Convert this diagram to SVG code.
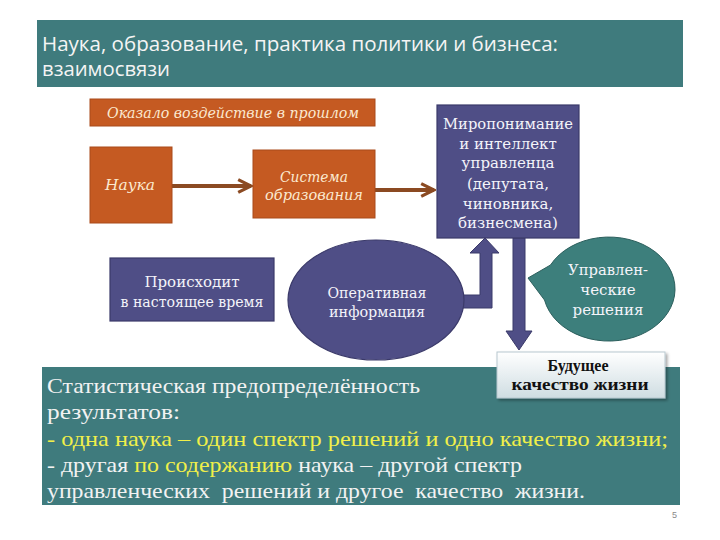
<svg xmlns="http://www.w3.org/2000/svg" width="720" height="540" viewBox="0 0 720 540">
  <defs>
    <style>
      .teal{fill:#3f7b7d;}
      .orange{fill:#c55a22;stroke:#a94a1a;stroke-width:1;}
      .purple{fill:#4f4e86;stroke:#3b3a6a;stroke-width:1.2;}
      .otext{font-style:italic;fill:#fbe9d0;text-anchor:middle;}
      .ptext{fill:#f4f4fa;text-anchor:middle;font-size:15px;}
      .btext{font-size:22px;fill:#f2f2f2;}
      .yel{fill:#f0ef4a;}
      .conn{stroke:#8b4a22;stroke-width:4;fill:none;}
    </style>
    <marker id="chev" viewBox="0 0 10 10" refX="9" refY="5" markerWidth="16" markerHeight="20" markerUnits="userSpaceOnUse" orient="auto">
      <path d="M1,1 L9,5 L1,9" fill="none" stroke="#8b4a22" stroke-width="2"/>
    </marker>
    <linearGradient id="fut" x1="0" y1="0" x2="0" y2="1">
      <stop offset="0" stop-color="#ffffff"/>
      <stop offset="1" stop-color="#cfdde2"/>
    </linearGradient>
    <filter id="sh" x="-10%" y="-10%" width="130%" height="140%">
      <feDropShadow dx="2" dy="2" stdDeviation="1.5" flood-color="#000" flood-opacity="0.35"/>
    </filter>
  </defs>
  <rect x="0" y="0" width="720" height="540" fill="#ffffff"/>

  <g id="title" font-family="Open Sans, sans-serif">
    <rect x="37" y="20" width="646" height="67" class="teal"/>
    <text x="42" y="51" font-size="20" fill="#f4f4f4" textLength="516" lengthAdjust="spacingAndGlyphs">Наука, образование, практика политики и бизнеса:</text>
    <text x="42" y="76" font-size="20" fill="#f4f4f4" textLength="128" lengthAdjust="spacingAndGlyphs">взаимосвязи</text>
  </g>

  <g id="connectors">
    <line x1="172" y1="186" x2="251" y2="186" class="conn" marker-end="url(#chev)"/>
    <line x1="375" y1="190" x2="434" y2="190" class="conn" marker-end="url(#chev)"/>
    <polygon points="455,295 480,295 480,253 470,253 485,238 499,253 492,253 492,308 455,308" fill="#4f4e86" stroke="#3b3a6a" stroke-width="1"/>
    <polygon points="513,238 525,238 525,331 532,331 519,350 506,331 513,331" fill="#4f4e86" stroke="#3b3a6a" stroke-width="1"/>
  </g>

  <g id="past" font-family="DejaVu Serif, serif">
    <rect x="90" y="99" width="285" height="27" class="orange"/>
    <text x="233" y="118" class="otext" font-size="14" textLength="252" lengthAdjust="spacingAndGlyphs">Оказало воздействие в прошлом</text>
  </g>

  <g id="nauka" font-family="DejaVu Serif, serif">
    <rect x="90" y="147" width="82" height="76" class="orange"/>
    <text x="130" y="190" class="otext" font-size="15" textLength="50" lengthAdjust="spacingAndGlyphs">Наука</text>
  </g>

  <g id="sistema" font-family="DejaVu Serif, serif">
    <rect x="253" y="150" width="122" height="68" class="orange"/>
    <text x="314" y="182" class="otext" font-size="15" textLength="68" lengthAdjust="spacingAndGlyphs">Система</text>
    <text x="314" y="200" class="otext" font-size="15" textLength="98" lengthAdjust="spacingAndGlyphs">образования</text>
  </g>

  <g id="mirovozzrenie" font-family="DejaVu Serif, serif">
    <rect x="437" y="105" width="142" height="133" class="purple"/>
    <text x="508" y="129" class="ptext" textLength="130" lengthAdjust="spacingAndGlyphs">Миропонимание</text>
    <text x="508" y="149" class="ptext">и интеллект</text>
    <text x="508" y="168" class="ptext">управленца</text>
    <text x="508" y="189" class="ptext">(депутата,</text>
    <text x="508" y="209" class="ptext">чиновника,</text>
    <text x="508" y="228" class="ptext">бизнесмена)</text>
  </g>

  <g id="present" font-family="DejaVu Serif, serif">
    <rect x="110" y="258" width="164" height="63" class="purple"/>
    <text x="192" y="287" class="ptext">Происходит</text>
    <text x="192" y="307" class="ptext" textLength="143" lengthAdjust="spacingAndGlyphs">в настоящее время</text>
  </g>

  <g id="operinfo" font-family="DejaVu Serif, serif">
    <ellipse cx="376" cy="300" rx="88" ry="60" class="purple"/>
    <text x="377" y="298" class="ptext" textLength="99" lengthAdjust="spacingAndGlyphs">Оперативная</text>
    <text x="377" y="317" class="ptext" textLength="96" lengthAdjust="spacingAndGlyphs">информация</text>
  </g>

  <g id="decisions" font-family="DejaVu Serif, serif">
    <path d="M550.5,265 L528,278 L544.5,300 A66,52 0 1 0 550.5,265 Z" fill="#3d7f7c" stroke="#2c5f5d" stroke-width="1"/>
    <text x="608" y="275" class="ptext" textLength="80" lengthAdjust="spacingAndGlyphs">Управлен-</text>
    <text x="608" y="295" class="ptext">ческие</text>
    <text x="608" y="315" class="ptext">решения</text>
  </g>

  <g id="summary" font-family="Liberation Serif, serif">
    <rect x="42" y="367" width="638" height="138" class="teal"/>
    <text x="47" y="393" class="btext" textLength="373" lengthAdjust="spacingAndGlyphs">Статистическая предопределённость</text>
    <text x="47" y="419" class="btext" textLength="133" lengthAdjust="spacingAndGlyphs">результатов:</text>
    <text x="47" y="446" class="btext yel" textLength="621" lengthAdjust="spacingAndGlyphs">- одна наука – один спектр решений и одно качество жизни;</text>
    <text x="47" y="472" class="btext" textLength="475" lengthAdjust="spacingAndGlyphs">- другая <tspan class="yel">по содержанию</tspan> наука – другой спектр</text>
    <text x="47" y="498" class="btext" textLength="538" lengthAdjust="spacingAndGlyphs" xml:space="preserve">управленческих  решений и другое  качество  жизни.</text>
  </g>

  <g id="future" font-family="Liberation Serif, serif">
    <rect x="497" y="352" width="168" height="46" fill="url(#fut)" stroke="#b8c8cf" stroke-width="1" filter="url(#sh)"/>
    <text x="578" y="371" font-weight="bold" font-size="16" fill="#111" text-anchor="middle">Будущее</text>
    <text x="580" y="390" font-weight="bold" font-size="16" fill="#111" text-anchor="middle" textLength="137" lengthAdjust="spacingAndGlyphs">качество жизни</text>
  </g>

  <text x="672" y="518" font-family="Liberation Sans, sans-serif" font-size="9" fill="#8a8a8a">5</text>
</svg>
